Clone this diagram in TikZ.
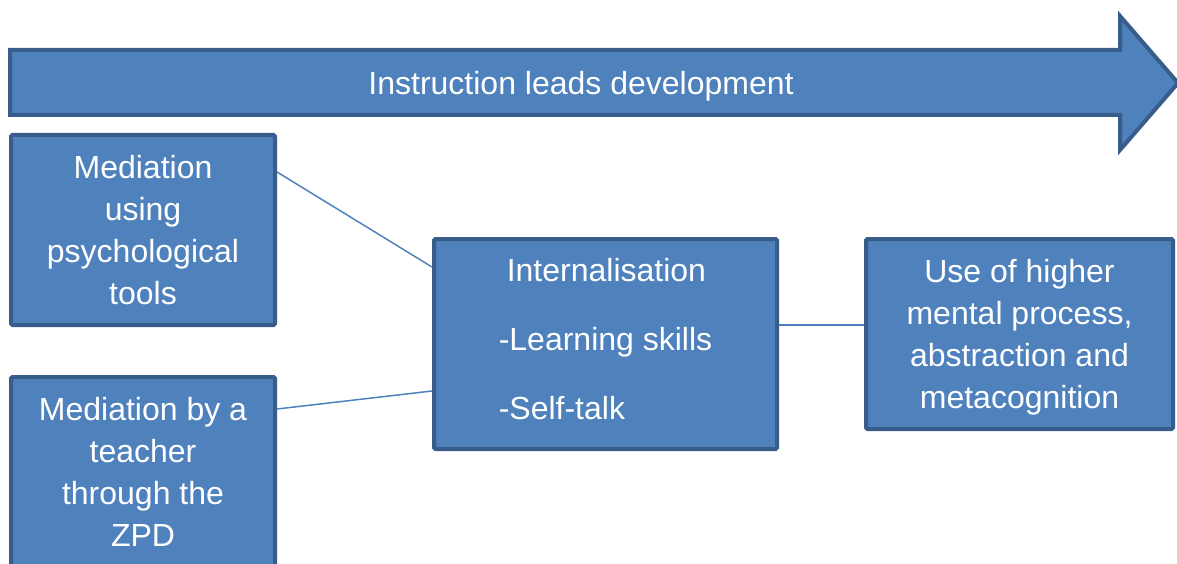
\documentclass[tikz,border=0pt]{standalone}
\usepackage{fontspec}
\setmainfont{Liberation Sans}
\definecolor{boxfill}{HTML}{4F81BD}
\definecolor{boxline}{HTML}{385D8A}
\tikzset{box/.style = {draw=boxline, fill=boxfill, line width=4, rounded corners=1.5, text=white, align=center, inner sep=0, font=\fontsize{32}{42}\selectfont},
  link/.style = {draw=boxfill, line width=1.5}}

\begin{document}
\begin{tikzpicture}[x=1pt, y=-1pt]
      \useasboundingbox (0,0) rectangle (1177,564);
      \clip (0,0) rectangle (1177,564);

      \draw [draw=boxline, fill=boxfill, line width=4] (10,50) -- (1120,50) -- (1120,16) -- (1178,83) -- (1120,150) -- (1120,115) -- (10,115) -- cycle;
      \node [text=white, font=\fontsize{32}{42}\selectfont] (lead) at (581,86) {Instruction leads development};

      \node [box, minimum width=264, minimum height=190] (tools) at (143,230) {Mediation\\using\\psychological\\tools};
      \node [box, minimum width=264, minimum height=190] (teacher) at (143,472) {Mediation by a\\teacher\\through the\\ZPD};
      \node [box, minimum width=343, minimum height=210, align=left, text depth=10pt, font=\fontsize{32}{69}\selectfont] (intern) at (605.5,344) {\hspace*{8pt}Internalisation\\-Learning skills\\-Self-talk};
      \node [box, minimum width=307, minimum height=190, text depth=0pt] (higher) at (1019.5,334) {Use of higher\\mental process,\\abstraction and\\metacognition};

      \draw [link] ([yshift=58pt]tools.east) -- ([yshift=77pt]intern.west);
      \draw [link] ([yshift=63pt]teacher.east) -- ([yshift=-47pt]intern.west);
      \draw [link] ([yshift=19pt]intern.east) -- ([yshift=9pt]higher.west);
    \end{tikzpicture}
\end{document}
